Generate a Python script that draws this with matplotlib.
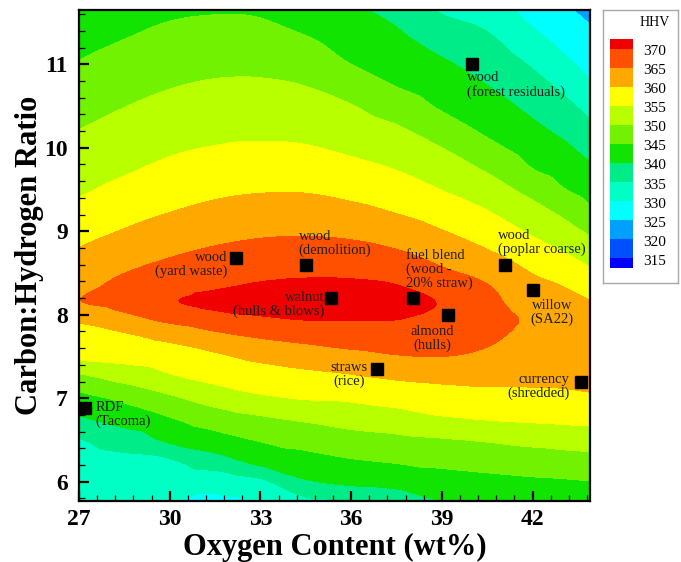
import matplotlib.pyplot as plt
import matplotlib.tri as mtri
import numpy as np
from matplotlib.patches import Rectangle
from matplotlib.ticker import MultipleLocator

plt.rcParams['font.family'] = ['Liberation Serif', 'DejaVu Serif']

# grid of the HHV response surface: columns = oxygen content, rows = C:H ratio
oxygen = [27, 28.5, 30, 31.5, 33, 34.5, 36, 37.5, 39, 40.5, 42, 43, 44]
ch_ratio = [5.75, 6.0, 6.25, 6.5, 6.75, 7.0, 7.25, 7.5, 7.75, 7.95, 8.15, 8.35,
            8.55, 8.75, 9.0, 9.25, 9.5, 9.75, 10.0, 10.25, 10.5, 10.75, 11.0,
            11.25, 11.5, 11.75]
hhv = [
    [331.4, 331.0, 329.9, 328.9, 329.9, 333.4, 334.0, 335.3, 339.6, 340.4, 340.9, 341.3, 341.7],
    [332.5, 332.4, 332.2, 331.8, 334.0, 339.4, 341.1, 342.0, 342.9, 343.6, 344.2, 344.5, 344.9],
    [333.6, 333.9, 334.5, 337.9, 341.5, 343.2, 344.6, 345.4, 346.2, 346.9, 347.6, 347.9, 348.3],
    [334.7, 337.1, 340.9, 343.1, 345.3, 346.8, 348.1, 348.9, 349.6, 350.4, 351.3, 351.9, 352.3],
    [339.3, 342.1, 344.6, 347.3, 349.2, 350.6, 351.9, 352.8, 354.4, 355.2, 355.7, 356.0, 356.3],
    [343.4, 346.0, 349.1, 352.1, 354.2, 355.3, 355.7, 356.8, 357.8, 358.3, 358.8, 359.0, 359.4],
    [348.8, 351.6, 354.3, 356.3, 357.6, 358.6, 359.4, 360.5, 361.1, 361.3, 360.9, 360.9, 361.2],
    [355.8, 356.6, 357.6, 359.2, 361.1, 362.3, 363.6, 364.7, 365.0, 364.1, 362.3, 362.3, 362.8],
    [358.4, 359.4, 361.4, 363.9, 365.6, 366.7, 367.5, 367.8, 366.9, 365.9, 363.7, 363.7, 362.5],
    [360.7, 363.4, 366.2, 368.1, 369.4, 370.2, 370.2, 370.1, 368.5, 366.9, 364.2, 362.9, 361.2],
    [364.8, 366.8, 369.6, 371.1, 371.8, 371.9, 371.8, 371.2, 369.7, 366.3, 362.7, 361.4, 360.0],
    [363.5, 366.3, 368.1, 369.4, 370.4, 370.8, 370.7, 370.1, 367.4, 365.2, 361.2, 359.9, 357.5],
    [362.0, 364.5, 366.2, 367.5, 368.5, 368.9, 368.8, 367.7, 365.3, 362.9, 359.4, 357.5, 355.0],
    [360.5, 362.6, 364.4, 365.7, 366.6, 366.9, 366.6, 365.4, 363.1, 360.4, 357.2, 355.1, 352.3],
    [358.3, 360.3, 362.0, 363.4, 364.2, 364.4, 363.9, 362.4, 360.2, 357.7, 354.3, 352.0, 348.9],
    [356.2, 358.2, 359.8, 361.1, 361.9, 362.0, 361.1, 359.6, 357.6, 355.0, 351.5, 348.8, 345.3],
    [354.3, 356.2, 357.9, 359.0, 359.6, 359.6, 358.6, 357.2, 354.9, 352.2, 348.4, 345.3, 342.9],
    [352.8, 354.4, 356.0, 357.1, 357.6, 357.4, 356.3, 354.8, 352.5, 349.4, 345.0, 343.0, 340.6],
    [351.3, 352.9, 354.3, 355.2, 355.6, 355.3, 354.1, 352.5, 350.0, 346.3, 342.9, 340.9, 338.2],
    [349.8, 351.4, 352.8, 353.6, 353.8, 353.5, 352.1, 350.3, 347.0, 343.8, 340.8, 338.6, 335.7],
    [348.3, 349.9, 351.3, 352.1, 352.2, 351.7, 350.2, 347.5, 344.4, 341.9, 338.8, 336.4, 333.0],
    [346.8, 348.4, 349.7, 350.5, 350.6, 349.9, 347.6, 344.8, 342.6, 340.0, 336.7, 333.9, 330.2],
    [345.3, 346.9, 348.2, 348.9, 348.9, 347.9, 345.0, 343.1, 340.7, 338.1, 334.5, 331.3, 328.3],
    [343.8, 345.3, 346.6, 347.3, 347.1, 345.8, 343.3, 341.4, 338.5, 336.2, 332.0, 329.0, 326.5],
    [342.3, 343.8, 345.1, 345.6, 345.4, 343.6, 341.7, 339.6, 336.0, 334.0, 329.5, 327.0, 324.6],
    [340.8, 342.2, 343.5, 344.0, 343.6, 341.4, 340.0, 337.5, 333.5, 331.5, 327.3, 325.0, 322.7],
]

# contour levels and band colours (lowest band first)
levels = [300, 315, 320, 325, 330, 335, 340, 345, 350, 355, 360, 365, 370, 390]
band_colors = ['#0000ff', '#0050ff', '#00a0ff', '#00ffff', '#00ffc4', '#00ec88',
               '#10e400', '#70f200', '#b8ff00', '#ffff00', '#ffa800', '#ff5000',
               '#f00000']
legend_levels = [370, 365, 360, 355, 350, 345, 340, 335, 330, 325, 320, 315]

# fuels plotted on the surface
fuel_names = ['wood\n(forest residuals)', 'wood\n(poplar coarse)',
              'wood\n(demolition)', 'wood\n(yard waste)', 'walnut\n(hulls & blows)',
              'fuel blend\n(wood -\n20% straw)', 'almond\n(hulls)', 'willow\n(SA22)',
              'straws\n(rice)', 'currency\n(shredded)', 'RDF\n(Tacoma)']
fuel_oxygen = [40.0, 41.1, 34.5, 32.2, 35.35, 38.05, 39.2, 42.0, 36.85, 43.6, 27.2]
fuel_ch = [11.0, 8.6, 8.6, 8.68, 8.2, 8.2, 8.0, 8.3, 7.35, 7.2, 6.88]

# label placement: (dx, dy) in points, ha, va, multialignment
label_style = [
    ((-4, -5), 'left', 'top', 'left'),
    ((-5, 6), 'left', 'bottom', 'left'),
    ((-5, 5.5), 'left', 'bottom', 'left'),
    ((-6.5, 5), 'right', 'top', 'right'),
    ((-5, 5), 'right', 'top', 'right'),
    ((-5, 5.5), 'left', 'bottom', 'left'),
    ((-11, -7), 'center', 'top', 'center'),
    ((14, -7), 'center', 'top', 'center'),
    ((-6.5, 5.5), 'right', 'top', 'center'),
    ((-8, 6.5), 'right', 'top', 'right'),
    ((7.5, 5), 'left', 'top', 'left'),
]

fig = plt.figure(figsize=(6.81, 5.62), dpi=100)
ax = fig.add_axes([79 / 681, 61 / 562, 511 / 681, 491 / 562])

# smooth the coarse grid with matplotlib's own triangulation refiner
gx, gy = np.meshgrid(oxygen, ch_ratio)
tri = mtri.Triangulation(gx.ravel(), gy.ravel())
refiner = mtri.UniformTriRefiner(tri)
interp = mtri.CubicTriInterpolator(tri, np.asarray(hhv).ravel(), kind='geom')
tri_fine, hhv_fine = refiner.refine_field(np.asarray(hhv).ravel(),
                                          triinterpolator=interp, subdiv=3)
ax.tricontourf(tri_fine, hhv_fine, levels=levels, colors=band_colors)

ax.plot(fuel_oxygen, fuel_ch, 's', color='black', ms=8.5, clip_on=False, zorder=5)
for name, xo, yc, (off, ha, va, ma) in zip(fuel_names, fuel_oxygen, fuel_ch, label_style):
    ax.annotate(name, (xo, yc), xytext=off, textcoords='offset points',
                ha=ha, va=va, multialignment=ma, fontsize=10.5, color='#1e1e1e',
                linespacing=1.05, zorder=6)

ax.set_xlim(27, 43.9)
ax.set_ylim(5.77, 11.65)
ax.set_xticks([27, 30, 33, 36, 39, 42])
ax.set_xticklabels(['27', '30', '33', '36', '39', '42'], fontweight='bold')
ax.set_yticks([6, 7, 8, 9, 10, 11])
ax.set_yticklabels(['6', '7', '8', '9', '10', '11'], fontweight='bold')
ax.xaxis.set_minor_locator(MultipleLocator(0.6))
ax.yaxis.set_minor_locator(MultipleLocator(0.2))
ax.tick_params(which='major', direction='in', length=7.5, width=1.6,
               labelsize=17, top=False, right=False)
ax.tick_params(axis='x', which='major', pad=6)
ax.tick_params(axis='y', which='major', pad=8)
ax.tick_params(which='minor', direction='in', length=4, width=0.9,
               top=False, right=False)
for sp in ax.spines.values():
    sp.set_linewidth(1.6)
ax.set_xlabel('Oxygen Content (wt%)', fontsize=22, fontweight='bold', labelpad=2)
ax.set_ylabel('Carbon:Hydrogen Ratio', fontsize=22, fontweight='bold', labelpad=0)

# contour legend box
lax = fig.add_axes([603 / 681, (562 - 283) / 562, 75 / 681, 273 / 562])
lax.set_xlim(0, 75)
lax.set_ylim(273, 0)
lax.set_xticks([])
lax.set_yticks([])
for sp in lax.spines.values():
    sp.set_color('#a8a8a8')
    sp.set_linewidth(1)
lax.text(67, 13, 'HHV', ha='right', va='center', fontsize=10)

step = 19.08
top = 38.5
n = len(legend_levels)
bands = band_colors[::-1]
for i, col in enumerate(bands):
    y0 = top + step * (i - 1)
    y1 = top + step * i
    if i == 0:
        y0 = top - step / 2
    if i == n:
        y1 = top + step * (n - 1) + step / 2
    lax.add_patch(Rectangle((7, y0), 23, y1 - y0, facecolor=col,
                            edgecolor='none'))
for i, lev in enumerate(legend_levels):
    lax.text(40, top + step * i + 3, str(lev), ha='left', va='center',
             fontsize=11)

fig.savefig('out.png', dpi=100)
